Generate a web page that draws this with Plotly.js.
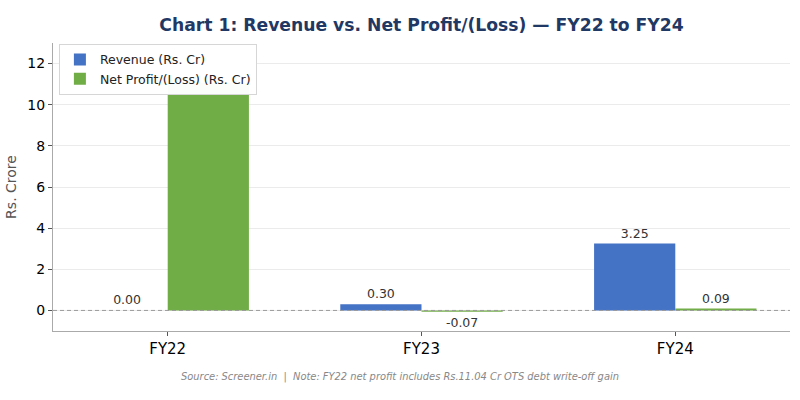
<!DOCTYPE html>
<html>
<head>
<meta charset="utf-8">
<script src="https://cdn.plot.ly/plotly-3.0.1.min.js"></script>
<style>
  html, body { margin: 0; padding: 0; background: #fff; }
  #chart { width: 800px; height: 400px; }
</style>
</head>
<body>
<div id="chart"></div>
<script>
// Fiscal years and the two series, in Rs. Crore
const years = ['FY22', 'FY23', 'FY24'];
const revenue = [0.00, 0.30, 3.25];
const netProfit = [11.04, -0.07, 0.09];
const yTicks = [0, 2, 4, 6, 8, 10, 12];

// The FY22 profit bar runs up under the legend box, so its value label is left off
const revenueLabels = revenue.map(v => v.toFixed(2));
const netProfitLabels = netProfit.map((v, i) => (i === 0 ? '' : v.toFixed(2)));

const FONT = 'DejaVu Sans, Verdana, sans-serif';

const labelFont = { family: FONT, size: 12.5, color: '#333333' };

const traces = [
  {
    type: 'bar',
    name: 'Revenue (Rs. Cr)',
    x: years,
    y: revenue,
    marker: { color: '#4472C4' },
    text: revenueLabels,
    textposition: 'outside',
    textfont: labelFont,
    constraintext: 'none',
    cliponaxis: false,
    hoverinfo: 'skip'
  },
  {
    type: 'bar',
    name: 'Net Profit/(Loss) (Rs. Cr)',
    x: years,
    y: netProfit,
    marker: { color: '#70AD47' },
    text: netProfitLabels,
    textposition: 'outside',
    textfont: labelFont,
    constraintext: 'none',
    cliponaxis: false,
    hoverinfo: 'skip'
  }
];

const layout = {
  width: 800,
  height: 400,
  margin: { l: 53, r: 10, t: 43, b: 69 },
  paper_bgcolor: '#ffffff',
  plot_bgcolor: '#ffffff',
  font: { family: FONT, color: '#000000' },
  barmode: 'group',
  bargap: 0.36,
  bargroupgap: 0,
  showlegend: true,
  title: {
    text: '<b>Chart 1: Revenue vs. Net Profit/(Loss) — FY22 to FY24</b>',
    font: { family: FONT, size: 17.2, color: '#1F3864' },
    x: 0.5,
    xref: 'paper',
    xanchor: 'center',
    y: 0.937,
    yref: 'container',
    yanchor: 'middle'
  },
  legend: {
    x: 0.008,
    y: 0.997,
    xanchor: 'left',
    yanchor: 'top',
    bgcolor: 'rgba(255,255,255,0.97)',
    bordercolor: '#d6d6d6',
    borderwidth: 1,
    font: { family: FONT, size: 12.5, color: '#222222' },
    tracegroupgap: 0,
    itemwidth: 30
  },
  xaxis: {
    type: 'category',
    range: [-0.452, 2.452],
    showgrid: false,
    zeroline: false,
    showline: true,
    linecolor: '#aaaaaa',
    linewidth: 1,
    ticks: 'outside',
    ticklen: 4,
    tickcolor: '#555555',
    tickfont: { family: FONT, size: 15, color: '#000000' }
  },
  yaxis: {
    range: [-1, 13],
    tickvals: yTicks,
    ticktext: yTicks.map(String),
    showgrid: true,
    gridcolor: '#ebebeb',
    gridwidth: 1,
    zeroline: false,
    showline: true,
    linecolor: '#aaaaaa',
    linewidth: 1,
    ticks: 'outside',
    ticklen: 4,
    tickcolor: '#555555',
    tickfont: { family: FONT, size: 14, color: '#000000' },
    title: {
      text: 'Rs. Crore',
      font: { family: FONT, size: 14, color: '#555555' },
      standoff: 7
    }
  },
  shapes: [
    {
      type: 'line',
      xref: 'paper',
      x0: 0, x1: 1,
      yref: 'y',
      y0: 0, y1: 0,
      line: { color: '#9a9a9a', width: 1, dash: '4px,3px' },
      layer: 'above'
    }
  ],
  annotations: [
    {
      text: '<i>Source: Screener.in  |  Note: FY22 net profit includes Rs.11.04 Cr OTS debt write-off gain</i>',
      xref: 'paper',
      yref: 'paper',
      x: 0.471,
      y: -0.16,
      xanchor: 'center',
      yanchor: 'middle',
      showarrow: false,
      font: { family: FONT, size: 9.9, color: '#888888' }
    }
  ]
};

Plotly.newPlot('chart', traces, layout, { staticPlot: true, displayModeBar: false });
</script>
</body>
</html>
